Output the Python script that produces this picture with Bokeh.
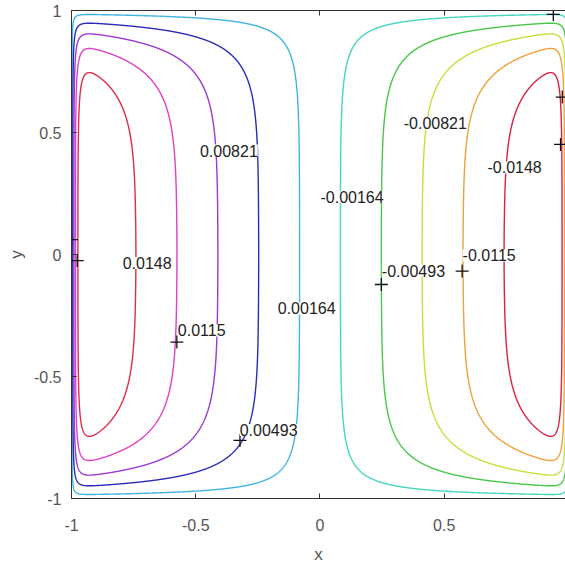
import numpy as np
from bokeh.plotting import figure
from bokeh.models import ColumnDataSource, LabelSet, LinearAxis, FixedTicker, Range1d
from bokeh.core.properties import value
from bokeh.embed import file_html
from bokeh.resources import INLINE

# contour levels and their colours
LEVELS = [-0.0148, -0.0115, -0.00821, -0.00493, -0.00164,
          0.00164, 0.00493, 0.00821, 0.0115, 0.0148]
LEVEL_COLORS = ["#dc2044", "#f0a23a", "#c4e03a", "#48c84a", "#44d6be",
                "#40b4e2", "#2a2cb8", "#9a3ad0", "#e040c8", "#e22a4a"]

# contour labels (text, position of left edge / middle)
LABEL_TEXT = ["0.0148", "0.0115", "0.00821", "0.00493", "0.00164",
              "-0.00164", "-0.00493", "-0.00821", "-0.0115", "-0.0148"]
LABEL_X = [-0.794, -0.572, -0.483, -0.323, -0.170, 0.002, 0.249, 0.337, 0.574, 0.674]
LABEL_Y = [-0.035, -0.311, 0.426, -0.719, -0.221, 0.236, -0.066, 0.537, -0.004, 0.357]

# "+" label points
MARK_X = [-1.0, -0.977, -0.576, -0.322, 0.247, 0.572, 0.939, 0.968, 0.975]
MARK_Y = [0.061, -0.025, -0.359, -0.762, -0.123, -0.068, 0.984, 0.451, 0.645]

X_TICKS = [-1, -0.5, 0, 0.5, 1]
X_TICK_LABELS = ["-1", "-0.5", "0", "0.5", "1"]
Y_TICKS = [-1, -0.5, 0, 0.5, 1]
Y_TICK_LABELS = ["-1", "-0.5", "0", "0.5", "1"]

# stream-function field:
# interior slope of psi in x, thin wall layers at x=+-1 and y=+-1
SLOPE = 0.02
WALL_X = 0.018
WALL_Y = 0.156
WALL_Y_EXP = 1.05
NX, NY = 1601, 801

xs = np.linspace(-1, 1, NX)
ys = np.linspace(-1, 1, NY)
X, Y = np.meshgrid(xs, ys)
Z = (-SLOPE * X
     * (1 - np.exp(-(1 - np.abs(X)) / WALL_X))
     * (1 - np.exp(-((1 - np.abs(Y)) / WALL_Y) ** WALL_Y_EXP)))

FONT = "Liberation Sans"

p = figure(width=565, height=567, output_backend="svg", toolbar_location=None,
           x_range=Range1d(-1, 0.988), y_range=Range1d(-1, 1),
           min_border_left=71, min_border_right=0, min_border_top=10,
           min_border_bottom=69, x_axis_label="x", y_axis_label="y")
p.grid.visible = False
p.outline_line_color = None
p.background_fill_color = "white"
p.border_fill_color = "white"

p.contour(xs, ys, Z, LEVELS, line_color=LEVEL_COLORS, line_width=1.4)

p.scatter(MARK_X, MARK_Y, marker="cross", size=13, line_color="#111111", line_width=1.3)

src = ColumnDataSource(dict(x=LABEL_X, y=LABEL_Y, text=LABEL_TEXT))
labels = LabelSet(x="x", y="y", text="text", source=src,
                  text_align="left", text_baseline="middle",
                  text_font=value(FONT), text_font_size=value("16px"),
                  text_color="#222222", background_fill_color="white")
p.add_layout(labels)

p.xaxis.ticker = FixedTicker(ticks=X_TICKS)
p.xaxis.major_label_overrides = {t: l for t, l in zip(X_TICKS, X_TICK_LABELS)}
p.yaxis.ticker = FixedTicker(ticks=Y_TICKS)
p.yaxis.major_label_overrides = {t: l for t, l in zip(Y_TICKS, Y_TICK_LABELS)}

for ax in (p.xaxis[0], p.yaxis[0]):
    ax.major_tick_in = 5
    ax.major_tick_out = 0
    ax.minor_tick_line_color = None
    ax.axis_line_color = "#333333"
    ax.major_tick_line_color = "#333333"
    ax.major_label_text_font = FONT
    ax.major_label_text_font_size = "16px"
    ax.major_label_text_color = "#555555"
    ax.axis_label_text_font = FONT
    ax.axis_label_text_font_size = "17px"
    ax.axis_label_text_font_style = "normal"
    ax.axis_label_text_color = "#555555"

p.xaxis.major_label_standoff = 20
p.xaxis.axis_label_standoff = 11
p.yaxis.major_label_standoff = 10
p.yaxis.axis_label_standoff = 5

# mirrored border on top, ticks only, no labels
top = LinearAxis(ticker=FixedTicker(ticks=X_TICKS), major_label_text_font_size="1px",
                 major_label_text_color=None,
                 major_tick_in=5, major_tick_out=0, minor_tick_line_color=None,
                 major_label_standoff=0, axis_line_color="#333333",
                 major_tick_line_color="#333333")
p.add_layout(top, "above")

open("out.html", "w").write(file_html(p, INLINE))
